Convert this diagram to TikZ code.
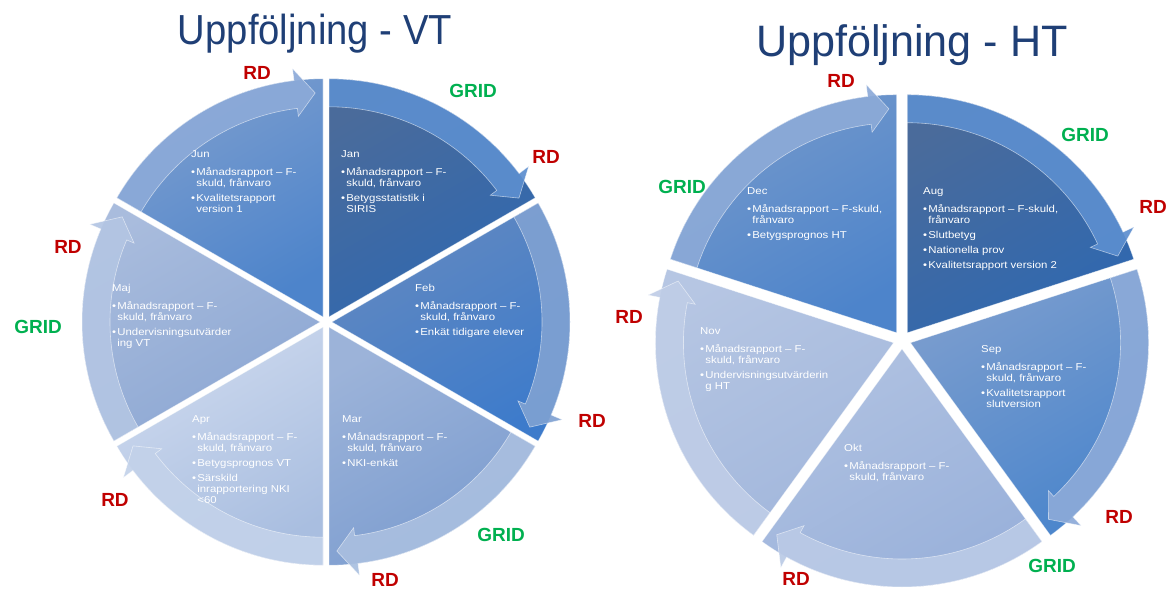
\documentclass[tikz,border=0pt]{standalone}
\usepackage{fontspec}
\setmainfont{Liberation Sans}
\definecolor{titleblue}{HTML}{1F3F76}
\definecolor{rdred}{HTML}{C00000}
\definecolor{gridgreen}{HTML}{00B050}
% left circle
\definecolor{jana}{HTML}{4A6B9B}\definecolor{janb}{HTML}{2F68B0}\definecolor{janc}{HTML}{5C8ECF}
\definecolor{feba}{HTML}{6389C0}\definecolor{febb}{HTML}{3D7BCB}\definecolor{febc}{HTML}{7FA1D2}
\definecolor{mara}{HTML}{9CB3D9}\definecolor{marb}{HTML}{7B9CCF}\definecolor{marc}{HTML}{A9BFE0}
\definecolor{apra}{HTML}{CDD9EE}\definecolor{aprb}{HTML}{A9BEE0}\definecolor{aprc}{HTML}{C3D2EA}
\definecolor{maja}{HTML}{A9BCDD}\definecolor{majb}{HTML}{8CA7D3}\definecolor{majc}{HTML}{B3C5E3}
\definecolor{juna}{HTML}{7B9DCE}\definecolor{junb}{HTML}{4D84CB}\definecolor{junc}{HTML}{8CAAD8}
% right circle
\definecolor{auga}{HTML}{4A6B9B}\definecolor{augb}{HTML}{2F68B0}\definecolor{augc}{HTML}{5C8ECF}
\definecolor{sepa}{HTML}{7B9DCE}\definecolor{sepb}{HTML}{4A85CC}\definecolor{sepc}{HTML}{8CAAD8}
\definecolor{okta}{HTML}{AFC1E1}\definecolor{oktb}{HTML}{98B0DA}\definecolor{oktc}{HTML}{BACAE6}
\definecolor{nova}{HTML}{B6C6E3}\definecolor{novb}{HTML}{A2B7DC}\definecolor{novc}{HTML}{BFCDE7}
\definecolor{deca}{HTML}{7398CB}\definecolor{decb}{HTML}{4D84CB}\definecolor{decc}{HTML}{8CAAD8}

% #1 cx, #2 cy, #3 R, #4 explode shift, #5 start angle, #6 end angle, #7 colour prefix
\newcommand\seg[7]{%
  \pgfmathsetmacro\segbis{(#5+#6)/2}%
  \pgfmathsetmacro\segri{#3-28}%
  \pgfmathsetmacro\segrm{#3-14}%
  \pgfmathsetmacro\segrw{#3+12}%
  \pgfmathsetmacro\segrv{#3-36}%
  \pgfmathsetmacro\segab{#6+7}%
  \pgfmathsetmacro\segat{#6+2}%
  \begin{scope}[shift={(#1,#2)}, shift={(\segbis:#4)}]
    \path[piestyle, top color=#7a, bottom color=#7b, shading angle=30]
      (0,0) -- (#5:#3) arc[start angle=#5, end angle=#6, radius=#3] -- cycle;
    \path[bandstyle, fill=#7c]
      (#5:#3) arc[start angle=#5, end angle=\segab, radius=#3]
      -- (\segab:\segrw) -- (\segat:\segrm) -- (\segab:\segrv)
      -- (\segab:\segri) arc[start angle=\segab, end angle=#5, radius=\segri] -- cycle;
  \end{scope}}

\newcommand\Mo[1]{\hbox{#1}\vskip7pt}
\newcommand\Bu[1]{\hbox{\textbullet\hskip1pt #1}}
\newcommand\Co[1]{\hbox{\hskip4.5pt #1}}
\newcommand\Gp{\vskip4pt}
\newcommand\Blk[1]{\vtop{\baselineskip=11pt #1}}

\begin{document}
\begin{tikzpicture}[x=1pt,y=1pt,
  piestyle/.style={draw=white, draw opacity=0.45, line width=0.6pt},
  bandstyle/.style={fill opacity=0.92, draw=white, draw opacity=0.55, line width=0.6pt},
  mtxt/.style={text=white, font=\fontsize{10}{11}\selectfont, inner sep=0pt, anchor=base west, xscale=1.14},
  lbl/.style={font=\fontsize{19}{19}\selectfont\bfseries, inner sep=0pt},
  rdlbl/.style={lbl, text=rdred},
  gridlbl/.style={lbl, text=gridgreen},
  ttl/.style={font=\fontsize{42}{42}\selectfont, text=titleblue, inner sep=0pt, anchor=base}]
\useasboundingbox (0,0) rectangle (1174,592);
\fill[white] (0,0) rectangle (1174,592);

% ---------- left cycle (VT) ----------
\seg{326}{270}{238}{6}{90}{30}{jan}
\seg{326}{270}{238}{6}{30}{-30}{feb}
\seg{326}{270}{238}{6}{-30}{-90}{mar}
\seg{326}{270}{238}{6}{-90}{-150}{apr}
\seg{326}{270}{238}{6}{-150}{-210}{maj}
\seg{326}{270}{238}{6}{150}{90}{jun}

\node[ttl, xscale=0.91] (tvt) at (315,547) {Uppföljning - VT};

\node[mtxt] (tjun) at (191,434.4) {\Blk{\Mo{Jun}\Bu{Månadsrapport – F-}\Co{skuld, frånvaro}\Gp\Bu{Kvalitetsrapport}\Co{version 1}}};
\node[mtxt] (tjan) at (341,434.4) {\Blk{\Mo{Jan}\Bu{Månadsrapport – F-}\Co{skuld, frånvaro}\Gp\Bu{Betygsstatistik i}\Co{SIRIS}}};
\node[mtxt] (tfeb) at (415,300.4) {\Blk{\Mo{Feb}\Bu{Månadsrapport – F-}\Co{skuld, frånvaro}\Gp\Bu{Enkät tidigare elever}}};
\node[mtxt] (tmar) at (342,169.4) {\Blk{\Mo{Mar}\Bu{Månadsrapport – F-}\Co{skuld, frånvaro}\Gp\Bu{NKI-enkät}}};
\node[mtxt] (tapr) at (192,169.4) {\Blk{\Mo{Apr}\Bu{Månadsrapport – F-}\Co{skuld, frånvaro}\Gp\Bu{Betygsprognos VT}\Gp\Bu{Särskild}\Co{inrapportering NKI}\Co{<60}}};
\node[mtxt] (tmaj) at (112,300.4) {\Blk{\Mo{Maj}\Bu{Månadsrapport – F-}\Co{skuld, frånvaro}\Gp\Bu{Undervisningsutvärder}\Co{ing VT}}};

\node[rdlbl] (l1) at (257,519) {RD};
\node[gridlbl] (l2) at (473,501) {GRID};
\node[rdlbl] (l3) at (546,435) {RD};
\node[rdlbl] (l4) at (592,171) {RD};
\node[gridlbl] (l5) at (501,57) {GRID};
\node[rdlbl] (l6) at (385,12) {RD};
\node[rdlbl] (l7) at (115,92) {RD};
\node[gridlbl] (l8) at (38,265) {GRID};
\node[rdlbl] (l9) at (68,345) {RD};

% ---------- right cycle (HT) ----------
\seg{902}{252}{238}{9}{90}{18}{aug}
\seg{902}{252}{238}{9}{18}{-54}{sep}
\seg{902}{252}{238}{9}{-54}{-126}{okt}
\seg{902}{252}{238}{9}{-126}{-198}{nov}
\seg{902}{252}{238}{9}{162}{90}{dec}

\node[ttl, xscale=0.98, font=\fontsize{44}{44}\selectfont] (tht) at (912,535) {Uppföljning - HT};

\node[mtxt] (tdec) at (747,397.4) {\Blk{\Mo{Dec}\Bu{Månadsrapport – F-skuld,}\Co{frånvaro}\Gp\Bu{Betygsprognos HT}}};
\node[mtxt] (taug) at (923,397.4) {\Blk{\Mo{Aug}\Bu{Månadsrapport – F-skuld,}\Co{frånvaro}\Gp\Bu{Slutbetyg}\Gp\Bu{Nationella prov}\Gp\Bu{Kvalitetsrapport version 2}}};
\node[mtxt] (tsep) at (981,239.4) {\Blk{\Mo{Sep}\Bu{Månadsrapport – F-}\Co{skuld, frånvaro}\Gp\Bu{Kvalitetsrapport}\Co{slutversion}}};
\node[mtxt] (tokt) at (844,140.4) {\Blk{\Mo{Okt}\Bu{Månadsrapport – F-}\Co{skuld, frånvaro}}};
\node[mtxt] (tnov) at (700,257.4) {\Blk{\Mo{Nov}\Bu{Månadsrapport – F-}\Co{skuld, frånvaro}\Gp\Bu{Undervisningsutvärderin}\Co{g HT}}};

\node[rdlbl] (r1) at (841,511) {RD};
\node[gridlbl] (r2) at (1085,457) {GRID};
\node[rdlbl] (r3) at (1153,385) {RD};
\node[rdlbl] (r4) at (1119,75) {RD};
\node[gridlbl] (r5) at (1052,26) {GRID};
\node[rdlbl] (r6) at (796,13) {RD};
\node[rdlbl] (r7) at (629,275) {RD};
\node[gridlbl] (r8) at (682,405) {GRID};
\end{tikzpicture}
\end{document}
